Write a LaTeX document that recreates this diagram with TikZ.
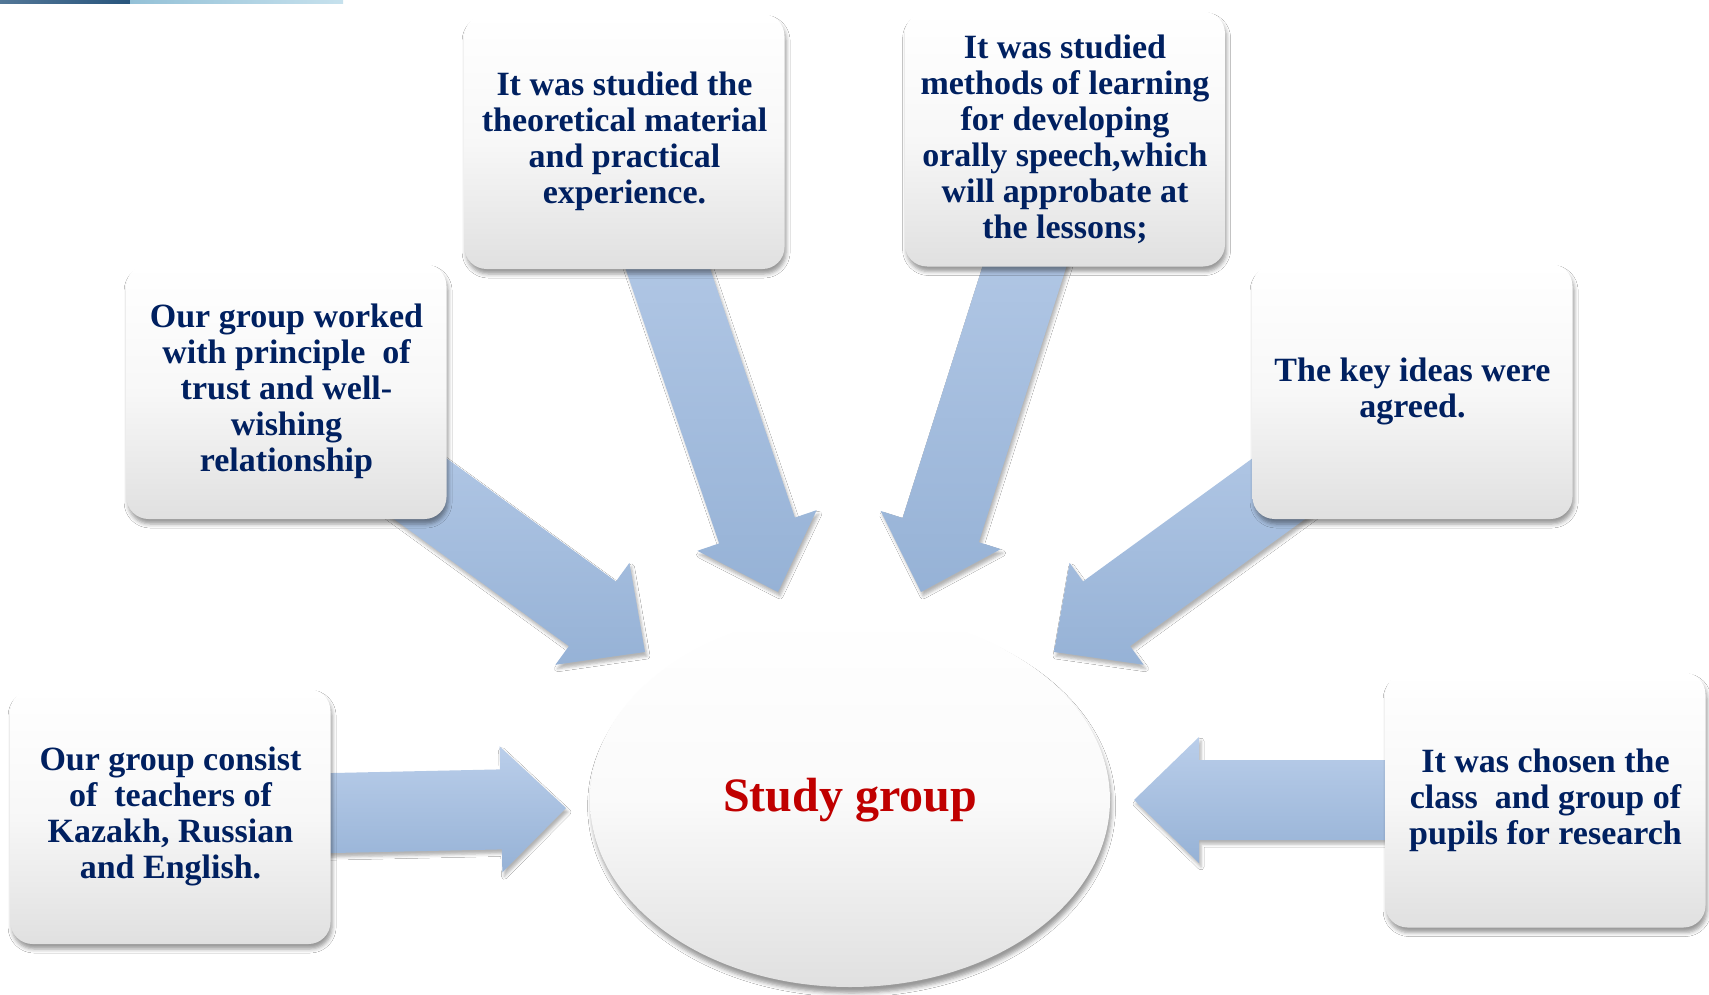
\documentclass[tikz,border=0pt]{standalone}
\usepackage{fontspec}
\setmainfont{Liberation Serif}
\usetikzlibrary{calc,shadows.blur,shapes.geometric}
\definecolor{navy}{RGB}{0,32,96}
\definecolor{sgred}{RGB}{192,0,0}
\definecolor{arrlight}{RGB}{186,206,234}
\definecolor{arrdark}{RGB}{150,178,214}
\definecolor{boxgray}{RGB}{224,224,224}
\definecolor{bardark}{RGB}{40,85,125}
\definecolor{barlight}{RGB}{160,205,225}
\pgfdeclarelayer{bg}
\pgfsetlayers{bg,main}
\tikzset{
  infobox/.style={rounded corners=11pt, minimum width=160pt, minimum height=127.5pt,
    inner sep=0pt, align=center, text=navy, font=\bfseries\fontsize{17}{18}\selectfont,
    top color=white, bottom color=boxgray, middle color=white!97!black,
    blur shadow={shadow xshift=0.8pt, shadow yshift=-2.5pt, shadow blur radius=2pt, shadow opacity=40}},
  hub/.style={ellipse, minimum width=260pt, minimum height=187pt, inner sep=0pt,
    text=sgred, font=\bfseries\fontsize{24}{26}\selectfont,
    top color=white, bottom color=boxgray, middle color=white!98!black,
    blur shadow={shadow xshift=0.8pt, shadow yshift=-3pt, shadow blur radius=2pt, shadow opacity=40}},
  arrowbody/.style={top color=arrlight, bottom color=arrdark,
    blur shadow={shadow xshift=1pt, shadow yshift=-2pt, shadow blur radius=1.5pt, shadow opacity=30}}
}
\newcommand{\fatarrow}[2]{%
  \coordinate (h-#1) at ($(#2)!32.5pt!(#1.center)$);
  \path[arrowbody] ($(#1.center)!20pt!90:(#2)$) -- ($(h-#1)!20pt!90:(#2)$)
    -- ($(h-#1)!31.5pt!90:(#2)$) -- (#2) -- ($(h-#1)!31.5pt!-90:(#2)$)
    -- ($(h-#1)!20pt!-90:(#2)$) -- ($(#1.center)!20pt!-90:(#2)$) -- cycle;}
\begin{document}
\begin{tikzpicture}[x=0.5pt,y=-0.5pt]
\useasboundingbox (0,0) rectangle (1709,995);

% boxes
\node[infobox] (A) at (170.5,816.5) {Our group consist\\of\ \ teachers of\\Kazakh, Russian\\and English.};
\node[infobox] (B) at (286.5,391.5) {Our group worked\\with principle\ \ of\\trust and well-\\wishing\\relationship};
\node[infobox] (C) at (624.5,141.5) {It was studied the\\theoretical material\\and practical\\experience.};
\node[infobox] (D) at (1065,139) {It was studied\\methods of learning\\for developing\\orally speech,which\\will approbate at\\the lessons;};
\node[infobox] (E) at (1412.5,391.5) {The key ideas were\\agreed.};
\node[infobox] (F) at (1545.5,800) {It was chosen the\\class\ \ and group of\\pupils for research};
\node[hub] (sg) at (850,800) {Study group};

% arrow tips
\coordinate (tipA) at (566,808);
\coordinate (tipB) at (645,652);
\coordinate (tipC) at (778,592);
\coordinate (tipD) at (921,592);
\coordinate (tipE) at (1054,652);
\coordinate (tipF) at (1134,800);

\begin{pgfonlayer}{bg}
\fill[white] (0,0) rectangle (1709,995);
% top bar
\shade[left color=bardark!80, right color=bardark] (0,0) rectangle (130,4);
\shade[left color=barlight!90!bardark, right color=barlight!60] (130,0) rectangle (343,4);
\fatarrow{A}{tipA}
\fatarrow{B}{tipB}
\fatarrow{C}{tipC}
\fatarrow{D}{tipD}
\fatarrow{E}{tipE}
\fatarrow{F}{tipF}
\end{pgfonlayer}
\end{tikzpicture}
\end{document}
